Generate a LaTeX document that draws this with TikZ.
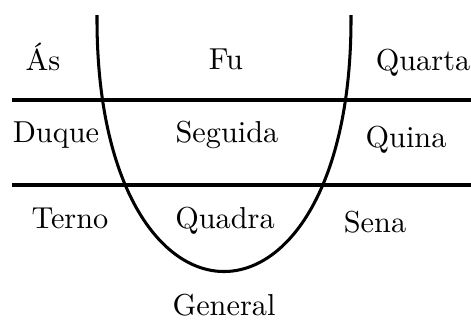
\documentclass[tikz,border=0pt]{standalone}
\begin{document}
\begin{tikzpicture}[x=0.33pt,y=-0.33pt,
  lbl/.style={anchor=base,inner sep=0pt,font=\fontsize{10}{12}\selectfont},
  rule/.style={line width=1pt}]
\useasboundingbox (0,0) rectangle (471,320);
\coordinate (ltop) at (97,15);
\coordinate (rtop) at (351,15);
\coordinate (l1) at (12,100);
\coordinate (r1) at (471,100);
\coordinate (l2) at (12,185);
\coordinate (r2) at (471,185);
\draw[rule] (ltop) .. controls (95,357) and (353,357) .. (rtop);
\draw[rule] (l1) -- (r1);
\draw[rule] (l2) -- (r2);
\node[lbl] (as) at (43,70) {Ás};
\node[lbl] (fu) at (226,69) {Fu};
\node[lbl] (quarta) at (423,70) {Quarta};
\node[lbl] (duque) at (56,142) {Duque};
\node[lbl] (seguida) at (227,142) {Seguida};
\node[lbl] (quina) at (406,147) {Quina};
\node[lbl] (terno) at (70,228) {Terno};
\node[lbl] (quadra) at (225,228) {Quadra};
\node[lbl] (sena) at (375,232) {Sena};
\node[lbl] (general) at (224,315) {General};
\end{tikzpicture}
\end{document}
